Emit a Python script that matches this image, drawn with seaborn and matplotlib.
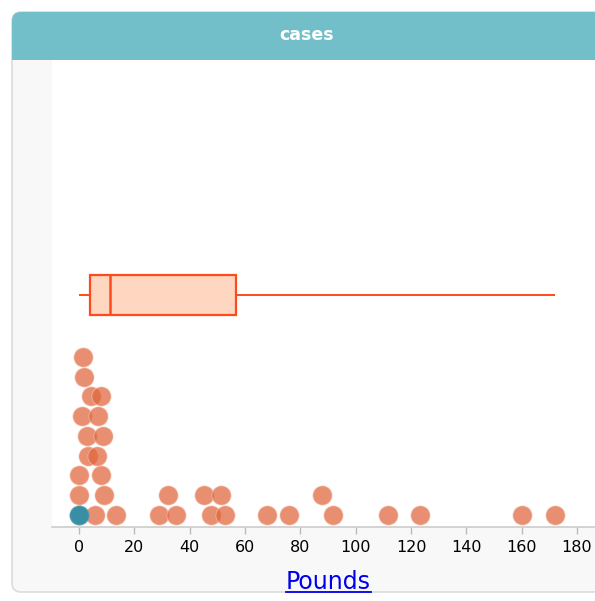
import numpy as np
import pandas as pd
import matplotlib
matplotlib.use("Agg")
import matplotlib.pyplot as plt
from matplotlib.patches import FancyBboxPatch, Rectangle
import seaborn as sns

# ---- data (case order) ----
pounds = [0, 0, 0, 3.4, 3.0, 1.0, 4.2, 1.8, 1.6,
          5.8, 9.1, 7.9, 6.4, 8.6, 6.9, 7.9,
          13.4, 29.0, 32.0, 35.1, 47.8, 45.3, 52.9, 51.3,
          68.0, 76.0, 91.7, 87.9, 111.6, 123.1, 160.0, 172.0]
selected_case = 0
title = "cases"
x_label = "Pounds"
x_ticks = [0, 20, 40, 60, 80, 100, 120, 140, 160, 180]

# ---- dot plot stacking: bin by value, stack in case order ----
bin_width = 7.5
bin_origin = -3.0
bins = np.floor((np.array(pounds) - bin_origin) / bin_width).astype(int)
levels = []
counts = {}
for b in bins:
    levels.append(counts.get(b, 0))
    counts[b] = counts.get(b, 0) + 1
df = pd.DataFrame({"pounds": pounds, "level": levels})
df["selected"] = df.index == selected_case

W, H = 595, 601
fig = plt.figure(figsize=(W / 100, H / 100), dpi=100)
fig.patch.set_facecolor("white")

def fx(px):
    return px / W

def fy(py):
    return 1 - py / H

# panel
panel = FancyBboxPatch((fx(12), fy(592)), fx(640) - fx(12), fy(12) - fy(592),
                       boxstyle="round,pad=0,rounding_size=0.015",
                       transform=fig.transFigure, facecolor="#F8F8F8",
                       edgecolor="#DCDCDC", linewidth=1.2, zorder=-3)
fig.patches.append(panel)
bar = FancyBboxPatch((fx(12), fy(60)), fx(640) - fx(12), fy(12) - fy(60),
                     boxstyle="round,pad=0,rounding_size=0.015",
                     transform=fig.transFigure, facecolor="#72BFC9",
                     edgecolor="none", zorder=-2)
fig.patches.append(bar)
fig.patches.append(Rectangle((fx(12), fy(60)), fx(640) - fx(12), fy(40) - fy(60),
                             transform=fig.transFigure, facecolor="#72BFC9",
                             edgecolor="none", zorder=-2))
fig.text(fx(307), fy(35), title, color="white", fontsize=12.5, fontweight="bold",
         ha="center", va="center", family="DejaVu Sans")

# main axes
ax = fig.add_axes([fx(52), fy(527), 1 - fx(52), fy(60) - fy(527)])
ax.set_facecolor("white")
x_min = (52 - 79) / 2.767
x_max = (595 - 79) / 2.767
ax.set_xlim(x_min, x_max)
ax.set_ylim(-0.61, 23.04)

orange = df[~df["selected"]]
sel = df[df["selected"]]
sns.scatterplot(data=orange, x="pounds", y="level", ax=ax, s=190,
                color="#E0643A", alpha=0.72, edgecolor="#F4C2AE",
                linewidth=0.6, legend=False, zorder=3)
sns.scatterplot(data=sel, x="pounds", y="level", ax=ax, s=190,
                color="#3A8EA3", alpha=1.0, edgecolor="#5AA3B5",
                linewidth=0.6, legend=False, zorder=4)

for s in ["top", "right", "left"]:
    ax.spines[s].set_visible(False)
ax.spines["bottom"].set_color("#CCCCCC")
ax.spines["bottom"].set_linewidth(1.2)
ax.set_yticks([])
ax.set_xticks(x_ticks)
ax.set_xticklabels([str(t) for t in x_ticks], family="DejaVu Sans", fontsize=11.5,
                   color="black")
ax.tick_params(axis="x", length=5, color="#BBBBBB", width=1, pad=4)
ax.set_xlabel("")
ax.set_ylabel("")
lbl = fig.text(fx(328), fy(589), x_label, color="#0000EE", fontsize=17,
               ha="center", va="baseline", family="DejaVu Sans")

# box plot on a twin axis
ax_box = ax.twinx()
sns.boxplot(x=df["pounds"], ax=ax_box, orient="h", whis=(0, 100), width=0.8,
            showcaps=False, fliersize=0,
            boxprops=dict(facecolor="#FFD6C0", edgecolor="#FF4A1C", linewidth=1.6),
            whiskerprops=dict(color="#FF4A1C", linewidth=1.4),
            medianprops=dict(color="#FF4A1C", linewidth=1.8))
ax_box.set_ylim(-4.64, 4.70)
ax_box.set_yticks([])
ax_box.set_ylabel("")
ax_box.set_xlabel("")
for s in ["top", "right", "left", "bottom"]:
    ax_box.spines[s].set_visible(False)
ax_box.set_xlim(x_min, x_max)

# underline the axis label (link style)
fig.canvas.draw()
bb = lbl.get_window_extent().transformed(fig.transFigure.inverted())
fig.add_artist(plt.Line2D([bb.x0, bb.x1], [fy(592), fy(592)],
                          color="#0000EE", linewidth=1.3,
                          transform=fig.transFigure))

fig.savefig("out.png", dpi=100, facecolor=fig.get_facecolor())
